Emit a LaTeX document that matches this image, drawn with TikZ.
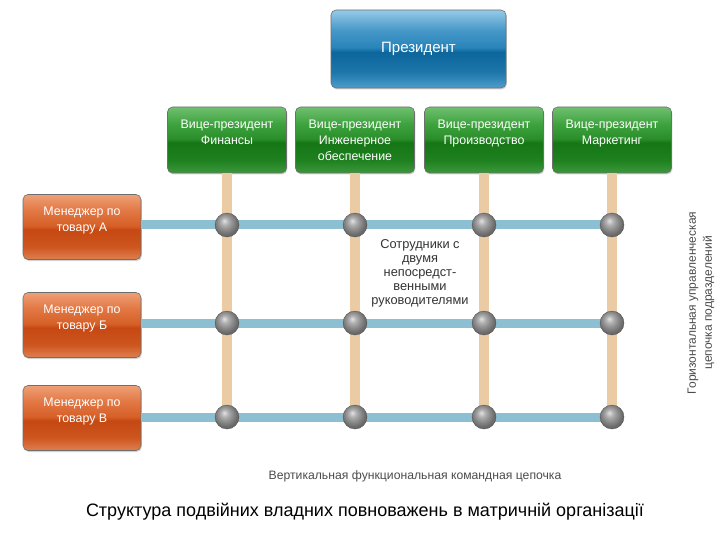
\documentclass[tikz,border=0pt]{standalone}
\usepackage{fontspec}
\setmainfont{Liberation Sans}
\setsansfont{Liberation Sans}
\usetikzlibrary{shadows}
\definecolor{vline}{HTML}{EBCBA4}
\definecolor{hline}{HTML}{8DBFD3}
\definecolor{boxedge}{HTML}{6E6E6E}
\definecolor{ballc}{HTML}{8C8C8C}
\pgfdeclareradialshading{greyball}{\pgfpoint{-6bp}{9bp}}{%
 color(0bp)=(ballc!25!white);
 color(8bp)=(ballc!70!white);
 color(16bp)=(ballc);
 color(25bp)=(ballc!75!black);
 color(50bp)=(ballc!60!black)}
\pgfdeclareverticalshading{presshade}{100bp}{%
 color(0bp)=(rgb,255:red,80;green,158;blue,204);
 color(25bp)=(rgb,255:red,80;green,158;blue,204);
 color(35bp)=(rgb,255:red,30;green,118;blue,170);
 color(48bp)=(rgb,255:red,12;green,102;blue,156);
 color(51bp)=(rgb,255:red,40;green,132;blue,186);
 color(62bp)=(rgb,255:red,70;green,152;blue,200);
 color(75bp)=(rgb,255:red,150;green,202;blue,232);
 color(100bp)=(rgb,255:red,150;green,202;blue,232)}
\pgfdeclareverticalshading{greenshade}{100bp}{%
 color(0bp)=(rgb,255:red,60;green,152;blue,60);
 color(25bp)=(rgb,255:red,60;green,152;blue,60);
 color(35bp)=(rgb,255:red,30;green,128;blue,30);
 color(48bp)=(rgb,255:red,22;green,118;blue,22);
 color(51bp)=(rgb,255:red,42;green,142;blue,42);
 color(62bp)=(rgb,255:red,62;green,162;blue,62);
 color(75bp)=(rgb,255:red,112;green,192;blue,112);
 color(100bp)=(rgb,255:red,112;green,192;blue,112)}
\pgfdeclareverticalshading{orangeshade}{100bp}{%
 color(0bp)=(rgb,255:red,222;green,128;blue,80);
 color(25bp)=(rgb,255:red,222;green,128;blue,80);
 color(35bp)=(rgb,255:red,205;green,85;blue,30);
 color(48bp)=(rgb,255:red,198;green,72;blue,18);
 color(51bp)=(rgb,255:red,214;green,96;blue,40);
 color(62bp)=(rgb,255:red,226;green,118;blue,66);
 color(75bp)=(rgb,255:red,238;green,160;blue,118);
 color(100bp)=(rgb,255:red,238;green,160;blue,118)}
\tikzset{
 boxbase/.style={rectangle, rounded corners=5pt, draw=boxedge, line width=0.6pt,
   text=white, align=center, inner sep=0pt,
   font=\fontsize{12.4}{16}\selectfont,
   drop shadow={opacity=0.35, shadow xshift=0.8pt, shadow yshift=-1.5pt}},
 presbox/.style={boxbase, shading=presshade, minimum width=175pt, minimum height=78pt,
   font=\fontsize{15}{17}\selectfont},
 vpbox/.style={boxbase, shading=greenshade, minimum width=119pt, minimum height=66pt},
 mgrbox/.style={boxbase, shading=orangeshade, minimum width=118pt, minimum height=65pt},
 vconn/.style={draw=vline, line width=10pt},
 hconn/.style={draw=hline, line width=9pt},
 ballnode/.style={circle, inner sep=0pt, minimum size=24pt, shading=greyball,
   draw=ballc!55!black, line width=0.3pt},
 graytext/.style={text=black!70, align=center},
}
\begin{document}
\begin{tikzpicture}[x=1pt,y=-1pt]
\useasboundingbox[fill=white] (0,0) rectangle (720,540);
% president
\node[presbox] (pres) at (418.5,49) {\raisebox{4pt}{Президент}};
% VPs
\node[vpbox] (vp1) at (227,140) {Вице-президент\\Финансы\\\phantom{x}};
\node[vpbox] (vp2) at (355,140) {Вице-президент\\Инженерное\\обеспечение};
\node[vpbox] (vp3) at (484,140) {Вице-президент\\Производство\\\phantom{x}};
\node[vpbox] (vp4) at (612,140) {Вице-президент\\Маркетинг\\\phantom{x}};
% managers
\node[mgrbox] (m1) at (82,227) {Менеджер по\\товару А\\\phantom{x}};
\node[mgrbox] (m2) at (82,325) {Менеджер по\\товару Б\\\phantom{x}};
\node[mgrbox] (m3) at (82,418) {Менеджер по\\товару В\\\phantom{x}};
% ball positions
\foreach \i/\x in {1/227,2/355,3/484,4/612}{
  \foreach \j/\y in {1/225,2/323,3/417}{
    \coordinate (c\i\j) at (\x,\y);
  }
}
% vertical lines
\foreach \i in {1,2,3,4}{
  \draw[vconn] (vp\i.south) -- (c\i3);
}
% horizontal lines
\foreach \j in {1,2,3}{
  \draw[hconn] (c1\j -| m\j.east) -- (c4\j);
}
% balls
\foreach \i in {1,2,3,4}{
  \foreach \j in {1,2,3}{
    \node[ballnode] (b\i\j) at (c\i\j) {};
  }
}
% texts
\node[text=black!80, font=\fontsize{12.8}{14}\selectfont, align=center] (emp) at (420,273)
  {Сотрудники с\\двумя\\непосредст-\\венными\\руководителями};
\node[graytext, rotate=90, font=\fontsize{12}{16}\selectfont] (horiz) at (701,303)
  {Горизонтальная управленческая\\цепочка подразделений};
\node[graytext, font=\fontsize{12.2}{14}\selectfont] (vert) at (415,476) {Вертикальная функциональная командная цепочка};
\node[text=black, font=\fontsize{18}{20}\selectfont] (cap) at (365,512)
  {Структура подвійних владних повноважень в матричній організації};
\end{tikzpicture}
\end{document}
